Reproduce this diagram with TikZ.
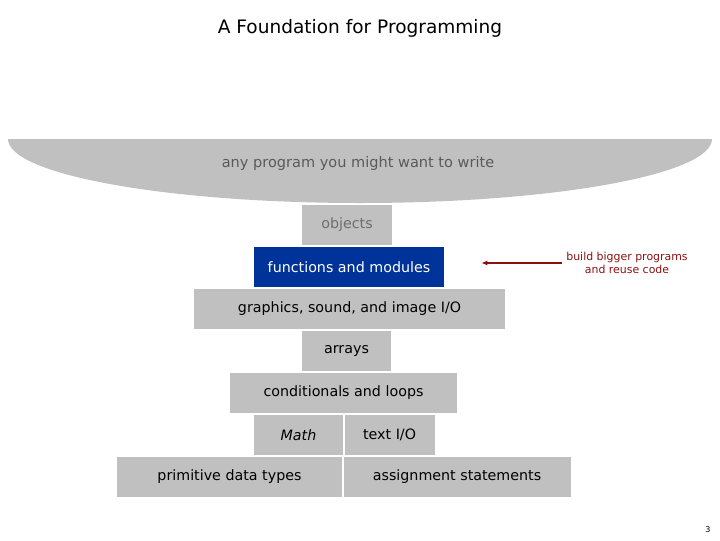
\documentclass[tikz,border=0pt]{standalone}
\usepackage{fontspec}
\setmainfont{DejaVu Sans}
\usepackage{tikz}
\usetikzlibrary{arrows.meta,positioning}
\definecolor{LayerGray}{HTML}{C0C0C0}
\definecolor{DeepBlue}{HTML}{003399}
\definecolor{DimText}{HTML}{5A5A5A}
\definecolor{FadeText}{HTML}{6E6E6E}
\definecolor{NoteRed}{HTML}{8B1010}

\begin{document}
\begin{tikzpicture}[
  x=0.75pt,y=-0.75pt,
  layer/.style={fill=LayerGray,minimum height=30pt,inner sep=0pt,font=\fontsize{10.7}{12}\selectfont},
  hot/.style={layer,fill=DeepBlue,text=white},
  arr/.style={-{Latex[length=1.6mm,width=1.3mm]},draw=NoteRed,line width=1pt}
]
\useasboundingbox (0,0) rectangle (720,540);
\node[font=\fontsize{13.9}{16}\selectfont] (title) at (360,28) {A Foundation for Programming};
% the bowl on top
\fill[LayerGray] (8,139) -- (712,139) .. controls (712,174.3) and (554.4,203) .. (360,203)
  .. controls (165.6,203) and (8,174.3) .. (8,139) -- cycle;
\node[text=DimText,font=\fontsize{10.9}{12}\selectfont] (bowl) at (358,163) {any program you might want to write};
% the layers
\node[layer,text=FadeText,minimum width=67.5pt] (obj) at (347,225) {objects};
\node[hot,minimum width=142.5pt] (fun) at (349,267) {functions and modules};
\node[layer,minimum width=233.25pt] (gfx) at (349.5,309) {graphics, sound, and image I/O};
\node[layer,minimum width=66.75pt] (arr) at (346.5,351) {arrays};
\node[layer,minimum width=170.25pt] (cond) at (343.5,393) {conditionals and loops};
\node[layer,minimum width=66.75pt] (math) at (298.5,435) {\itshape Math};
\node[layer,minimum width=67.5pt,right=0.75pt of math] (tio) {text I/O};
\node[layer,minimum width=168.75pt] (prim) at (229.5,477) {primitive data types};
\node[layer,minimum width=170.25pt,right=0.75pt of prim] (asg) {assignment statements};
% side note
\node[text=NoteRed,align=center,font=\fontsize{8.2}{10}\selectfont] (note) at (627,263) {build bigger programs\\and reuse code};
\draw[arr] (note.west) -- ([xshift=27.75pt]fun.east |- note.west);
\node[font=\fontsize{6}{7}\selectfont] (pg) at (708,530) {3};
\end{tikzpicture}
\end{document}
